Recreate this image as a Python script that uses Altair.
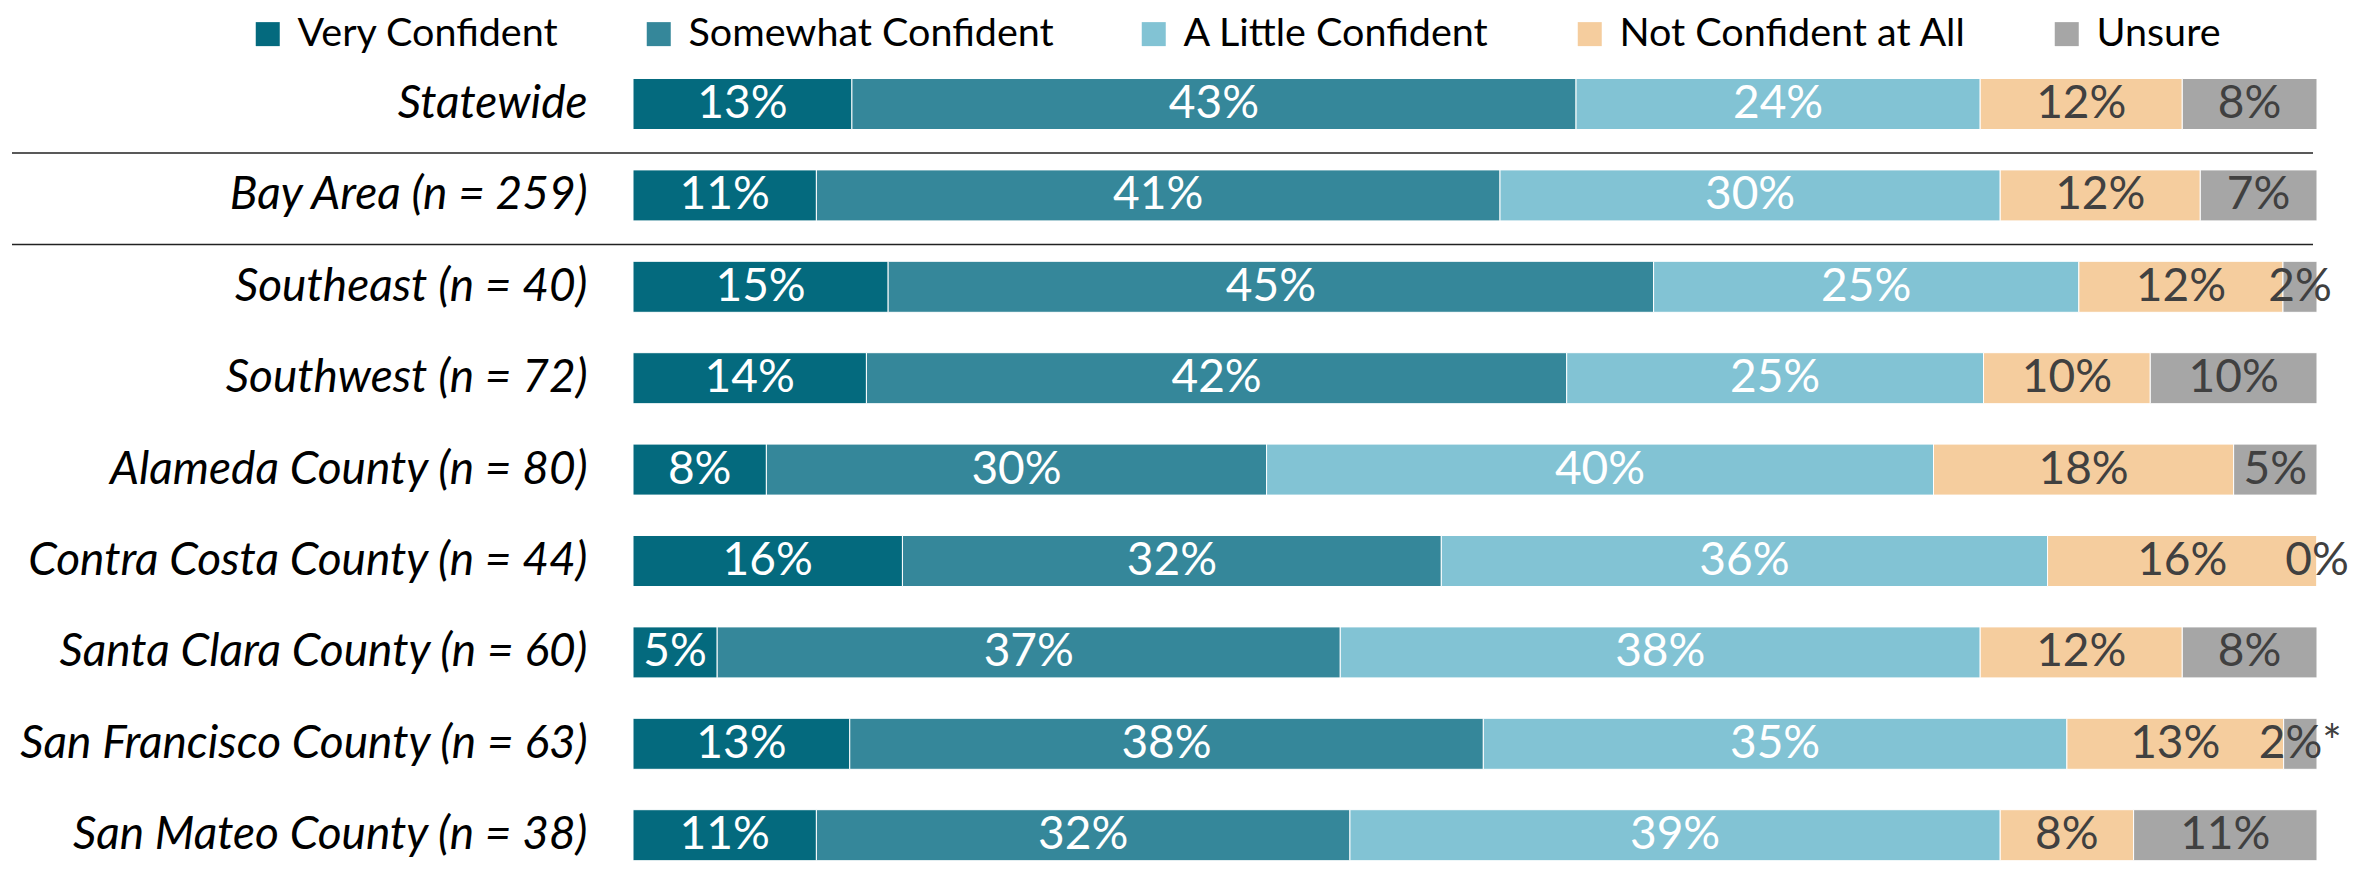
import altair as alt
import pandas as pd

regions = [
    "Statewide",
    "Bay Area (n = 259)",
    "Southeast (n = 40)",
    "Southwest (n = 72)",
    "Alameda County (n = 80)",
    "Contra Costa County (n = 44)",
    "Santa Clara County (n = 60)",
    "San Francisco County (n = 63)",
    "San Mateo County (n = 38)",
]
categories = [
    "Very Confident",
    "Somewhat Confident",
    "A Little Confident",
    "Not Confident at All",
    "Unsure",
]
colors = ["#046a7e", "#35879a", "#82c3d4", "#f5cd9e", "#a6a6a6"]

very_confident = [13, 11, 15, 14, 8, 16, 5, 13, 11]
somewhat_confident = [43, 41, 45, 42, 30, 32, 37, 38, 32]
a_little_confident = [24, 30, 25, 25, 40, 36, 38, 35, 39]
not_confident = [12, 12, 12, 10, 18, 16, 12, 13, 8]
unsure = [8, 7, 2, 10, 5, 0, 8, 2, 11]

# footnote marker shown after one value label
footnote_region = "San Francisco County (n = 63)"
footnote_category = "Unsure"
footnote_mark = "*"

# rows followed by a divider line
dividers_after = ["Statewide", "Bay Area (n = 259)"]

series = [very_confident, somewhat_confident, a_little_confident, not_confident, unsure]
records = []
for i, r in enumerate(regions):
    for j, c in enumerate(categories):
        v = series[j][i]
        lab = f"{v}%"
        if r == footnote_region and c == footnote_category:
            lab += footnote_mark
        records.append({"region": r, "category": c, "order": j, "value": v, "label": lab})
df = pd.DataFrame(records)
div_df = pd.DataFrame({"region": dividers_after})

FONT = "Lato"
STEP = 91.4
y_scale = alt.Scale(domain=regions, range=[0, STEP * len(regions)], paddingInner=0.442, paddingOuter=0.221)
x_scale = alt.Scale(domain=[0, 1], nice=False)

base = alt.Chart(df).transform_stack(
    stack="value",
    groupby=["region"],
    as_=["v0", "v1"],
    offset="normalize",
    sort=[alt.SortField("order")],
).transform_calculate(mid="(datum.v0 + datum.v1) / 2")

y_enc = alt.Y(
    "region:N",
    sort=regions,
    scale=y_scale,
    axis=alt.Axis(
        title=None,
        labelFont=FONT,
        labelFontStyle="italic",
        labelFontSize=46,
        labelColor="black",
        labelPadding=46,
        ticks=False,
        domain=False,
        labelLimit=900,
    ),
)

bars = base.mark_bar(stroke="white", strokeWidth=1).encode(
    x=alt.X("v0:Q", scale=x_scale, axis=None),
    x2="v1:Q",
    y=y_enc,
    color=alt.Color(
        "category:N",
        sort=categories,
        scale=alt.Scale(domain=categories, range=colors),
        legend=alt.Legend(
            title=None,
            orient="none",
            legendX=-385,
            legendY=-44.3,
            direction="horizontal",
            columns=5,
            symbolType="square",
            symbolSize=576,
            symbolStrokeWidth=0,
            labelFont=FONT,
            labelFontSize=39.5,
            labelColor="black",
            labelLimit=900,
            labelOffset=10,
            columnPadding=80,
            padding=0,
        ),
    ),
)

texts = base.mark_text(font=FONT, fontSize=46, baseline="middle", align="center").encode(
    x=alt.X("mid:Q", scale=x_scale, axis=None),
    y=alt.Y("region:N", sort=regions, scale=y_scale),
    text="label:N",
    color=alt.condition("datum.order >= 3", alt.value("#404040"), alt.value("white")),
)

rules = alt.Chart(div_df).mark_rule(color="#222222", strokeWidth=1.5, yOffset=49).encode(
    y=alt.Y("region:N", sort=regions, scale=y_scale),
    x=alt.value(-621),
    x2=alt.value(1680),
)

chart = alt.layer(bars, texts, rules).properties(
    width=1684,
    height=804.7,
    autosize=alt.AutoSizeParams(type="none"),
    padding={"left": 625, "top": 50.3, "right": 44, "bottom": 0},
).configure_view(stroke=None)

chart.save("out.html", embed_options={"renderer": "svg", "actions": False})
